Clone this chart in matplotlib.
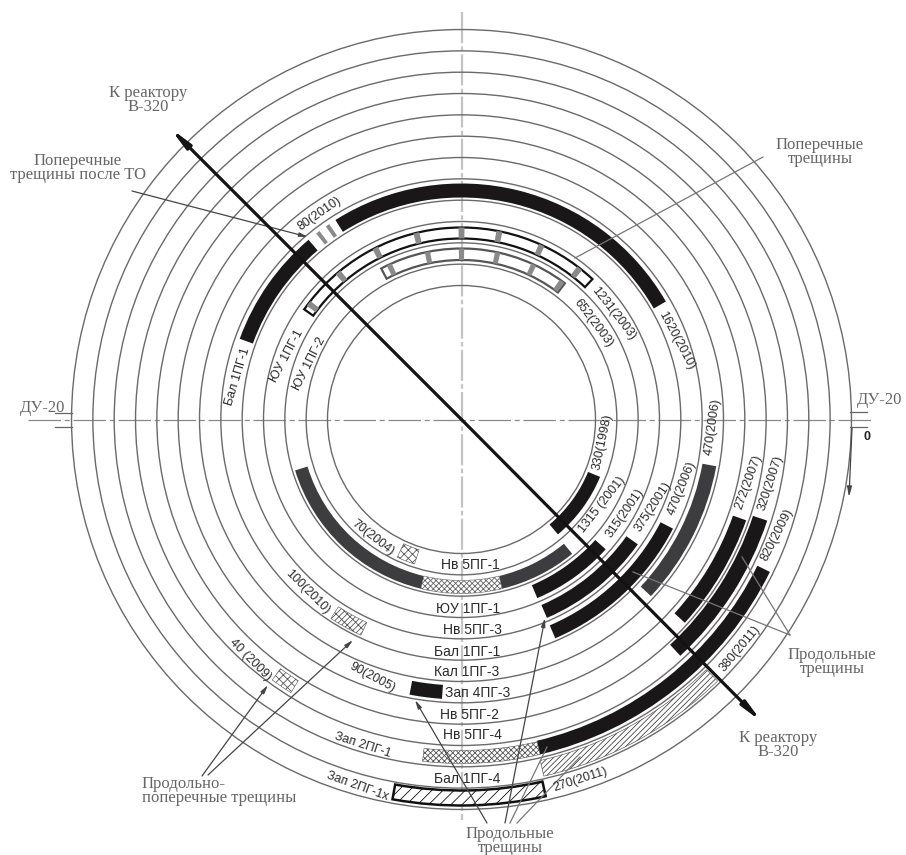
"""Crack map of the collector, drawn as rings"""

import matplotlib
matplotlib.use('Agg')
import matplotlib.pyplot as plt
from matplotlib.patches import Circle, Wedge

plt.rcParams['hatch.linewidth'] = 0.6

CX, CY = 461.5, 419.5
W, H = 906, 855
SERIF = 'Liberation Serif'
SANS = 'Liberation Sans'

ring_radii = [134 + 21.33 * i for i in range(13)]

# (r_in, r_out, start angle, end angle), degrees counter-clockwise from east
black_bands = [
    (137, 150, -50, -22.5),
    (180, 194, -67, -42),
    (202, 216, -66.7, -35.3),
    (224, 238, -66.8, -27.3),
    (222, 236, 30, 122.3),
    (222, 236, 130.4, 160),
    (288, 302, -42.3, -19.5),
    (307, 322, -47.2, -18.3),
    (330, 344, -76.8, -26.3),
    (266, 280, 259.3, 266),
]
dark_bands = [
    (161, 174, 283.5, 309.5),
    (161, 174, 197, 256.5),
    (245, 259, -43, -10.4),
]
hatched_bands = [
    (161, 174, 256.5, 283.5, '#666666', '//////\\\\\\\\\\\\'),
    (331, 344, 263.5, 283.2, '#555555', '//////\\\\\\\\\\\\'),
    (137, 152, 245, 252, '#555555', 'xxxx'),
    (224, 238, 236.7, 245, '#555555', '//////\\\\\\'),
    (308, 322, 234, 238, '#555555', 'xxxx'),
    (350, 366, 283, 314.4, '#444444', '//////'),
]
# Frames with the transverse cracks as angles inside them
frame_inner = (159.5, 171, 52.8, 118)
frame_inner_cracks = [54, 65, 77.8, 90, 101.5, 115]
frame_outer = (181, 192, 47, 145)
frame_outer_cracks = [52, 65.3, 78.6, 90, 103.6, 116.7, 130, 142.8]
band_cracks = [124.6, 127.5]
frame_bottom = (371, 386, 259.7, 282.6)

row_labels = ['Нв 5ПГ-1', 'ЮУ 1ПГ-1', 'Нв 5ПГ-3', 'Бал 1ПГ-1', 'Кал 1ПГ-3',
              'Зап 4ПГ-3', 'Нв 5ПГ-2', 'Нв 5ПГ-4', 'Бал 1ПГ-4']
row_x = [470, 468, 472, 467, 467, 478, 470, 472, 467]
row_y = [565, 609, 630, 652, 672, 693, 715, 735, 779]

# text, x, y, rotation in picture pixels
tangent_labels = [
    ('330(1998)', 603, 442, 78),
    ('1315 (2001)', 602, 505, 52),
    ('315(2001)', 625, 513, 55),
    ('375(2001)', 653, 507, 57),
    ('470(2006)', 682, 488, 68),
    ('470(2006)', 713, 427, 82),
    ('272(2007)', 748, 482, 70),
    ('320(2007)', 771, 483, 72),
    ('820(2009)', 777, 535, 63),
    ('380(2011)', 740, 649, 50),
    ('270(2011)', 580, 780, 18),
    ('1620(2010)', 676, 341, -62),
    ('1231(2003)', 613, 314, -52),
    ('652(2003)', 593, 323, -53),
    ('80(2010)', 320, 214, 35),
    ('Бал 1ПГ-1', 238, 377, 73),
    ('ЮУ 1ПГ-1', 287, 356, 62),
    ('ЮУ 1ПГ-2', 309, 364, 63),
    ('70(2004)', 373, 538, -38),
    ('100(2010)', 308, 592, -45),
    ('40 (2009)', 250, 660, -45),
    ('90(2005)', 372, 677, -28),
    ('Зап 2ПГ-1', 363, 745, -18),
    ('Зап 2ПГ-1х', 357, 786, -20),
]
note_labels = [
    ('К реактору\nВ-320', 148, 100, 'center'),
    ('Поперечные\nтрещины после ТО', 78, 168, 'center'),
    ('Поперечные\nтрещины', 820, 152, 'center'),
    ('Продольные\nтрещины', 832, 662, 'center'),
    ('К реактору\nВ-320', 778, 745, 'center'),
    ('Продольно-\nпоперечные трещины', 142, 791, 'left'),
    ('Продольные\nтрещины', 510, 841, 'center'),
    ('ДУ-20', 43, 408, 'center'),
    ('ДУ-20', 880, 400, 'center'),
]
# x0, y0, x1, y1 in picture pixels
leaders = [
    (132, 191, 308, 237),
    (763, 157, 575, 258),
    (633, 572, 790, 635),
    (742, 557, 790, 635),
    (487, 823, 415, 700),
    (505, 823, 545, 618),
    (510, 823, 547, 747),
    (517, 823, 580, 757),
    (202, 776, 268, 685),
    (208, 775, 353, 640),
]
arrow_leaders = [0, 4, 5, 8, 9]


def px(x, y):
    """Picture pixels to centred data coordinates"""
    return x - CX, CY - y


def add_band(ax, r_in, r_out, start, end, **kwargs):
    """Draw one ring segment"""
    patch = Wedge((0, 0), r_out, start, end, width=r_out - r_in, **kwargs)
    ax.add_patch(patch)


def add_cracks(ax, r_in, r_out, angles, half_width):
    """Short grey radial bars across a band"""
    for angle in angles:
        add_band(ax, r_in, r_out, angle - half_width, angle + half_width,
                 facecolor='#8a8a8a', edgecolor='none', zorder=4)


def main():
    """Main"""
    fig = plt.figure(figsize=(W / 100, H / 100), dpi=100)
    ax = fig.add_axes([0, 0, 1, 1])
    ax.set_xlim(-CX, W - CX)
    ax.set_ylim(CY - H, CY)
    ax.axis('off')

    for radius in ring_radii:
        ax.add_patch(Circle((0, 0), radius, fill=False, edgecolor='#6a6a6a',
                            linewidth=1.0, zorder=2))

    ax.plot(*zip(px(CX, 12), px(CX, 820)), color='#c4c4c4', linewidth=1.6,
            linestyle=(0, (14, 1.5, 2, 1.5)), zorder=1)
    ax.plot(*zip(px(28, CY), px(872, CY)), color='#8a8a8a', linewidth=0.9,
            linestyle=(0, (26, 3, 4, 3)), zorder=1)
    for x0, x1, y in [(55, 72, 413), (55, 72, 427), (850, 867, 412),
                      (850, 867, 427)]:
        ax.plot(*zip(px(x0, y), px(x1, y)), color='#666666', linewidth=0.9)

    for r_in, r_out, start, end in black_bands:
        add_band(ax, r_in, r_out, start, end, facecolor='#1a1718',
                 edgecolor='none', zorder=3)
    for r_in, r_out, start, end in dark_bands:
        add_band(ax, r_in, r_out, start, end, facecolor='#3d3d3f',
                 edgecolor='none', zorder=3)
    for r_in, r_out, start, end, color, hatch in hatched_bands:
        add_band(ax, r_in, r_out, start, end, facecolor='white',
                 edgecolor=color, hatch=hatch, linewidth=0.4, zorder=3)

    for frame, cracks, edge in [(frame_inner, frame_inner_cracks, '#555555'),
                                (frame_outer, frame_outer_cracks, '#111111')]:
        add_band(ax, *frame, facecolor='white', edgecolor=edge,
                 linewidth=1.6, zorder=3)
        add_cracks(ax, frame[0], frame[1], cracks, 0.9)
    add_cracks(ax, 222, 236, band_cracks, 0.5)
    add_band(ax, *frame_bottom, facecolor='white', edgecolor='#111111',
             hatch='///', linewidth=1.8, zorder=3)

    for index, (x0, y0, x1, y1) in enumerate(leaders):
        if index in arrow_leaders:
            ax.annotate('', xy=px(x1, y1), xytext=px(x0, y0), zorder=5,
                        arrowprops=dict(arrowstyle='-|>,head_width=0.12,'
                                        'head_length=0.5', color='#444444',
                                        linewidth=0.9, shrinkA=0, shrinkB=0))
        else:
            ax.plot(*zip(px(x0, y0), px(x1, y1)), color='#777777',
                    linewidth=0.9, zorder=5)

    # Main axis towards the reactor, both ways
    for tip in [(170, 128), (762, 722)]:
        ax.annotate('', xy=px(*tip), xytext=(0, 0), zorder=6,
                    arrowprops=dict(arrowstyle='-|>,head_width=0.18,'
                                    'head_length=1.2', color='#141213',
                                    linewidth=2.3, shrinkA=0, shrinkB=0))
    ax.annotate('', xy=px(849, 497), xytext=px(852, 428), zorder=5,
                arrowprops=dict(arrowstyle='-|>,head_width=0.14,'
                                'head_length=0.6', color='#444444',
                                linewidth=0.9, shrinkA=0, shrinkB=0))

    for label, x, y in zip(row_labels, row_x, row_y):
        ax.text(*px(x, y), label, family=SANS, fontsize=10, color='#2a2a2a',
                ha='center', va='center', zorder=7)
    for label, x, y, rotation in tangent_labels:
        ax.text(*px(x, y), label, family=SANS, fontsize=9, color='#2a2a2a',
                rotation=rotation, rotation_mode='anchor', ha='center',
                va='center', zorder=7)
    for label, x, y, align in note_labels:
        ax.text(*px(x, y), label, family=SERIF, fontsize=12, color='#666666',
                ha=align, va='center', multialignment=align, linespacing=0.8,
                zorder=7)
    ax.text(*px(867, 437), '0', family=SANS, fontsize=9, color='#222222',
            ha='center', va='center', fontweight='bold')

    fig.savefig('out.png', dpi=100)


if __name__ == '__main__':
    main()
